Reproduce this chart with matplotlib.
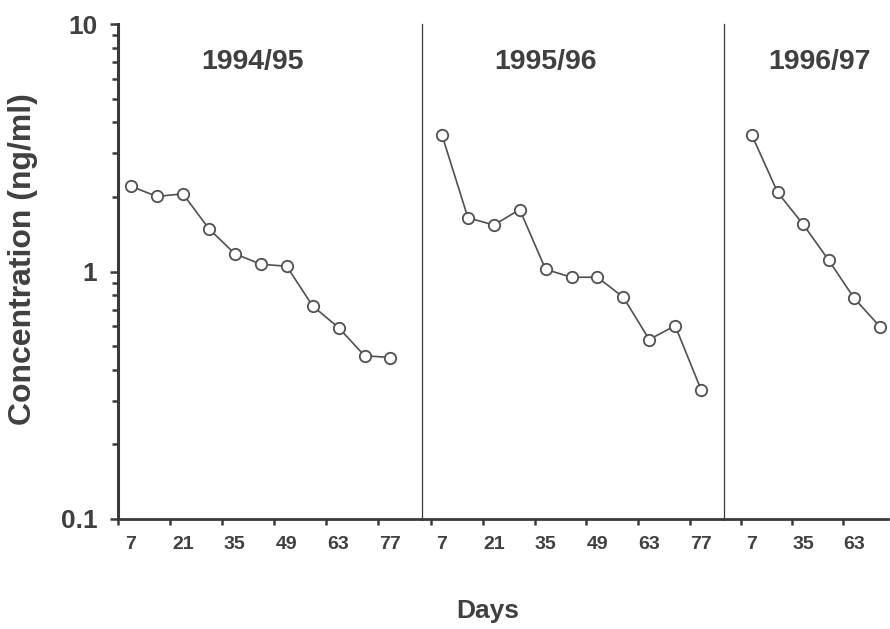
import numpy as np
import matplotlib
matplotlib.use("Agg")
import matplotlib.pyplot as plt
from matplotlib.ticker import FixedLocator, FixedFormatter, LogLocator, NullFormatter

# season data: sampling day and concentration (ng/ml)
seasons = ["1994/95", "1995/96", "1996/97"]
days_9495 = [7, 14, 21, 28, 35, 42, 49, 56, 63, 70, 77]
conc_9495 = [2.21, 2.01, 2.06, 1.49, 1.18, 1.07, 1.05, 0.726, 0.593, 0.457, 0.449]
days_9596 = [7, 14, 21, 28, 35, 42, 49, 56, 63, 70, 77]
conc_9596 = [3.56, 1.65, 1.54, 1.78, 1.02, 0.948, 0.948, 0.787, 0.531, 0.604, 0.333]
days_9697 = [7, 21, 35, 49, 63, 77]
conc_9697 = [3.55, 2.09, 1.55, 1.11, 0.778, 0.599]

ticklabels_9495 = [7, 21, 35, 49, 63, 77]
ticklabels_9596 = [7, 21, 35, 49, 63, 77]
ticklabels_9697 = [7, 35, 63]

plt.rcParams['font.family'] = ['Liberation Sans', 'DejaVu Sans']
plt.rcParams['font.weight'] = 'bold'

txt = '#404040'
ink = '#505050'
axc = '#3a3a3a'

fig = plt.figure(figsize=(8.9, 6.29), dpi=100)
bot = 1 - 519 / 629
top = 1 - 24 / 629
h = top - bot
edges = [118, 422, 724, 888]
xlims = [(3.5, 85.5), (1.6, 83.2), (-8.3, 81.4)]
mticks = [[3.5, 17.5, 31.5, 45.5, 59.5, 73.5],
          [4, 18, 32, 46, 60, 74],
          [1, 29, 57]]
title_x = [39.7, 35, 44.2]

panels = [(days_9495, conc_9495, ticklabels_9495),
          (days_9596, conc_9596, ticklabels_9596),
          (days_9697, conc_9697, ticklabels_9697)]

axes = []
for i, (d, c, tl) in enumerate(panels):
    x0 = edges[i] / 890
    w = (edges[i + 1] - edges[i]) / 890
    ax = fig.add_axes([x0, bot, w, h])
    axes.append(ax)
    ax.plot(d, c, color=ink, lw=1.2, marker='o', ms=8.2, mfc='white',
            mec=ink, mew=1.3, clip_on=False, zorder=3)
    ax.set_yscale('log')
    ax.set_ylim(0.1, 10)
    ax.set_xlim(*xlims[i])
    for s in ['top', 'right']:
        ax.spines[s].set_visible(False)
    ax.spines['bottom'].set_linewidth(2.0)
    ax.spines['bottom'].set_color(axc)
    ax.spines['left'].set_color(axc)
    ax.xaxis.set_major_locator(FixedLocator(tl))
    ax.xaxis.set_major_formatter(FixedFormatter([str(t) for t in tl]))
    ax.xaxis.set_minor_locator(FixedLocator(mticks[i]))
    ax.tick_params(axis='x', which='major', length=0, pad=12, labelsize=14,
                   labelcolor=txt)
    ax.tick_params(axis='x', which='minor', length=4, width=1.8, color=axc,
                   direction='out')
    ax.text(title_x[i], 0.923, seasons[i], transform=ax.get_xaxis_transform(),
            ha='center', va='center', fontsize=20.5, fontweight='bold', color=txt)
    if i == 0:
        ax.spines['left'].set_linewidth(2.2)
        ax.yaxis.set_major_locator(FixedLocator([0.1, 1, 10]))
        ax.yaxis.set_major_formatter(FixedFormatter(['0.1', '1', '10']))
        ax.yaxis.set_minor_locator(LogLocator(base=10, subs=np.arange(2, 10)))
        ax.yaxis.set_minor_formatter(NullFormatter())
        ax.tick_params(axis='y', which='major', length=6, width=1.8, color=axc,
                       pad=9, labelsize=19, labelcolor=txt)
        ax.tick_params(axis='y', which='minor', length=4, width=1.8, color=axc)
    else:
        ax.spines['left'].set_linewidth(0.9)
        ax.tick_params(axis='y', which='both', left=False, labelleft=False)

fig.text(23 / 890, 1 - 259 / 629, 'Concentration (ng/ml)', rotation=90,
         ha='center', va='center', fontsize=23, fontweight='bold', color=txt)
fig.text(488 / 890, 1 - 611 / 629, 'Days', ha='center', va='center',
         fontsize=19, fontweight='bold', color=txt)

fig.savefig('out.png', dpi=100)
